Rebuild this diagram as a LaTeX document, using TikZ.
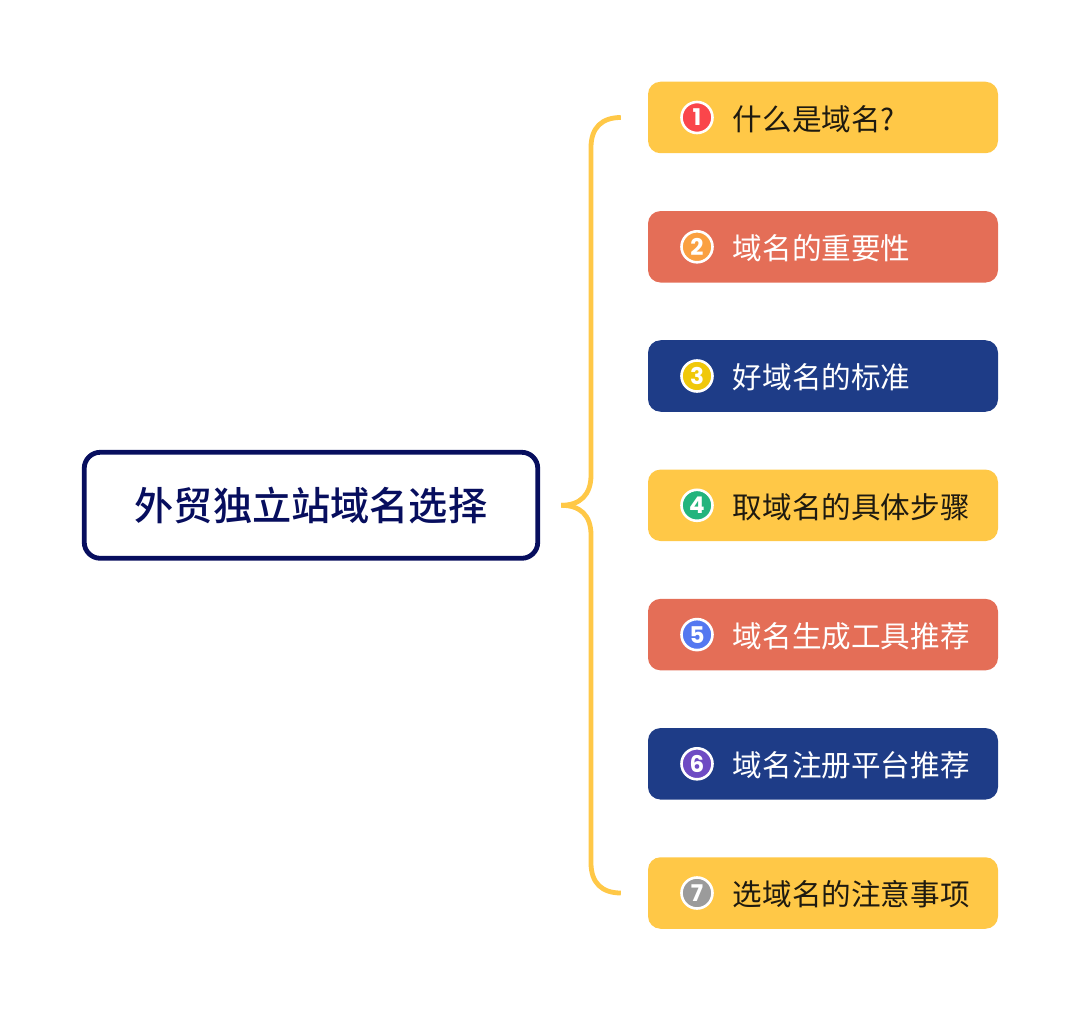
\documentclass[tikz,border=0pt]{standalone}
\usepackage{fontspec}
\setmainfont{Noto Sans CJK SC}
\newfontfamily\badgefont{Poppins Bold}
\newfontfamily\rootfont{Noto Sans CJK SC Medium}
\definecolor{cyellow}{HTML}{FFC847}
\definecolor{cred}{HTML}{E46E57}
\definecolor{cblue}{HTML}{1E3C87}
\definecolor{cnavy}{HTML}{070E5E}
\definecolor{ctext}{HTML}{1E1A10}
\tikzset{
  item/.style={rectangle,rounded corners=12.5pt,minimum width=350pt,minimum height=71.5pt,inner sep=0pt},
  label/.style={anchor=west,inner sep=0pt,font=\fontsize{29.6pt}{32pt}\selectfont},
  badge/.style={circle,draw=white,line width=2.6pt,minimum size=31pt,inner sep=0pt,
    text=white,font=\badgefont\fontsize{23pt}{24pt}\selectfont},
  rootbox/.style={rectangle,rounded corners=16pt,draw=cnavy,line width=4.8pt,fill=white,
    minimum width=453.5pt,minimum height=106pt,inner sep=0pt,text=cnavy,
    font=\rootfont\fontsize{39.2pt}{42pt}\selectfont},
  bracket/.style={draw=cyellow,line width=4.8pt}
}
\begin{document}
\begin{tikzpicture}[x=1pt,y=-1pt]
\useasboundingbox (0,0) rectangle (1080,1011);
\node[rootbox] (root) at (311,505.3) {\raisebox{-1.2pt}{外贸独立站域名选择}};
\node[item,fill=cyellow] (b1) at (823,117.5) {};
\node[item,fill=cred] (b2) at (823,246.8) {};
\node[item,fill=cblue] (b3) at (823,376) {};
\node[item,fill=cyellow] (b4) at (823,505.3) {};
\node[item,fill=cred] (b5) at (823,634.6) {};
\node[item,fill=cblue] (b6) at (823,763.8) {};
\node[item,fill=cyellow] (b7) at (823,893) {};
\node[badge,fill={rgb,255:red,250;green,70;blue,75}] (n1) at (697,117.5) {1};
\node[badge,fill={rgb,255:red,250;green,160;blue,65}] (n2) at (697,246.8) {2};
\node[badge,fill={rgb,255:red,240;green,200;blue,10}] (n3) at (697,376) {3};
\node[badge,fill={rgb,255:red,35;green,180;blue,125}] (n4) at (697,505.3) {4};
\node[badge,fill={rgb,255:red,85;green,120;blue,240}] (n5) at (697,634.6) {5};
\node[badge,fill={rgb,255:red,110;green,75;blue,195}] (n6) at (697,763.8) {6};
\node[badge,fill={rgb,255:red,155;green,155;blue,155}] (n7) at (697,893) {7};
\node[label,text=ctext] (t1) at (732.6,119) {什么是域名?};
\node[label,text=white] (t2) at (732.6,248.3) {域名的重要性};
\node[label,text=white] (t3) at (732.6,377.5) {好域名的标准};
\node[label,text=ctext] (t4) at (732.6,506.8) {取域名的具体步骤};
\node[label,text=white] (t5) at (732.6,636.1) {域名生成工具推荐};
\node[label,text=white] (t6) at (732.6,765.3) {域名注册平台推荐};
\node[label,text=ctext] (t7) at (732.6,894.5) {选域名的注意事项};
\coordinate (tip) at ([xshift=21pt]root.east);
\coordinate (top) at ([xshift=-27pt]b1.west);
\coordinate (bot) at ([xshift=-27pt]b7.west);
\draw[bracket] (tip) .. controls (580,505.3) and (591,515) .. (591,535)
  -- (591,863) .. controls (591,883) and (602,893) .. (bot);
\draw[bracket] (tip) .. controls (580,505.3) and (591,495) .. (591,475)
  -- (591,147.5) .. controls (591,127.5) and (602,117.5) .. (top);
\end{tikzpicture}
\end{document}
